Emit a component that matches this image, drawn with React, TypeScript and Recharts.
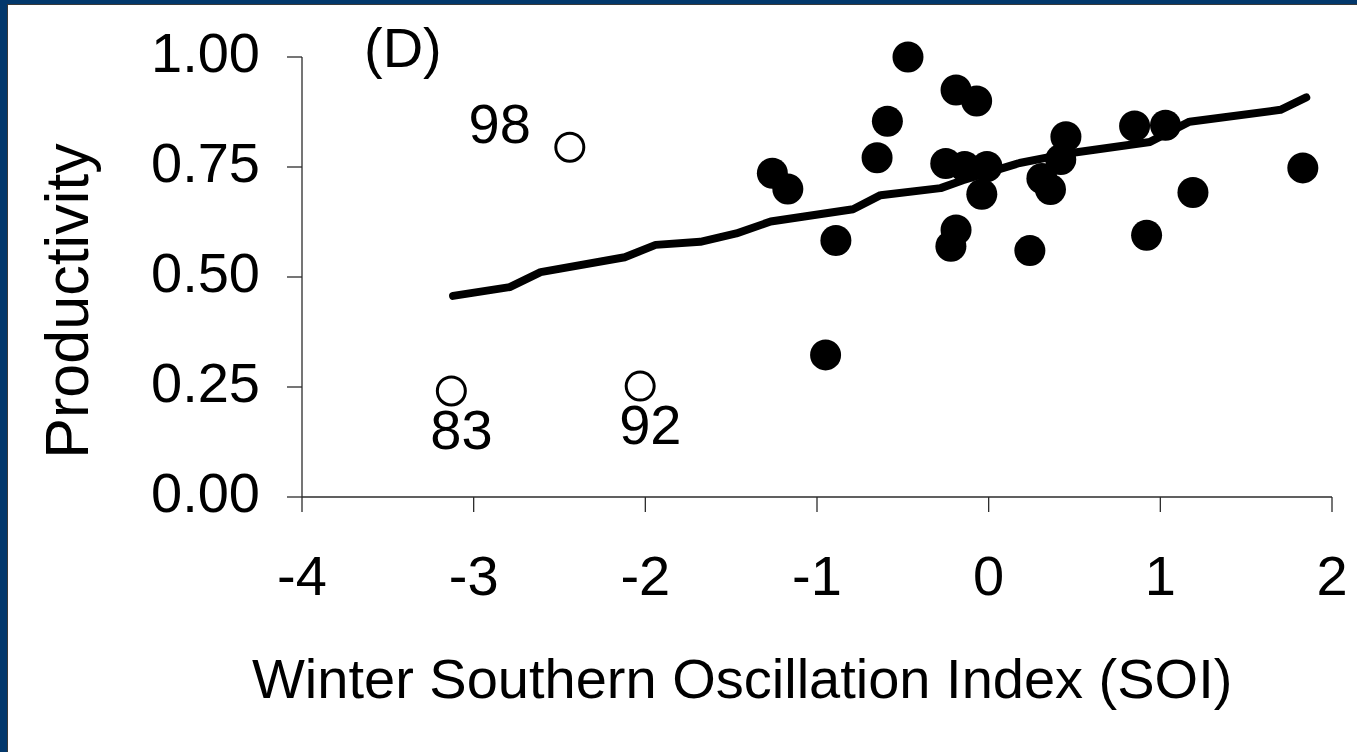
import { ScatterChart, Scatter, XAxis, YAxis, Label } from "recharts";

// filled points: winter SOI vs productivity
const soiYears = [
  -0.47, -0.19, -0.07, -0.59, -0.65, -1.26, -1.17, -0.25, -0.14, -0.01, -0.04,
  0.45, 0.42, 0.31, 0.36, 0.85, 0.92, -0.19, -0.22, 0.24, -0.89, -0.95, 1.03,
  1.19, 1.83,
];
const prodYears = [
  1.0, 0.925, 0.9, 0.854, 0.771, 0.736, 0.7, 0.758, 0.751, 0.751, 0.688,
  0.819, 0.767, 0.724, 0.699, 0.843, 0.595, 0.607, 0.57, 0.56, 0.583, 0.323,
  0.845, 0.692, 0.748,
];

// open points (outlier years)
const outlierYears = ["98", "83", "92"];
const soiOutliers = [-2.44, -3.13, -2.03];
const prodOutliers = [0.795, 0.241, 0.252];

// fitted line
const trendSoi = [
  -3.12, -2.79, -2.61, -2.12, -1.94, -1.68, -1.47, -1.27, -0.79, -0.63, -0.28,
  -0.15, 0.18, 0.45, 0.94, 1.17, 1.7, 1.85,
];
const trendProd = [
  0.457, 0.477, 0.511, 0.545, 0.573, 0.58, 0.599, 0.626, 0.654, 0.686, 0.702,
  0.72, 0.759, 0.78, 0.807, 0.853, 0.88, 0.908,
];

const xTicks = [-4, -3, -2, -1, 0, 1, 2];
const yTicks = [0, 0.25, 0.5, 0.75, 1];

const filled = soiYears.map((x, i) => ({ x, y: prodYears[i] }));
const outliers = soiOutliers.map((x, i) => ({
  x,
  y: prodOutliers[i],
  year: outlierYears[i],
}));
const trend = trendSoi.map((x, i) => ({ x, y: trendProd[i] }));

const FONT = "'Liberation Sans', Arial, sans-serif";
const FS = 56;
const AXIS = "#2b2b2b";

const YTick = (p: any) => (
  <text
    x={p.x}
    y={p.y + 15}
    textAnchor="end"
    fontFamily={FONT}
    fontSize={FS}
    fill="#000"
  >
    {p.payload.value.toFixed(2)}
  </text>
);

const XTick = (p: any) => (
  <text
    x={p.x}
    y={p.y + 83}
    textAnchor="middle"
    fontFamily={FONT}
    fontSize={FS}
    fill="#000"
  >
    {p.payload.value}
  </text>
);

const Dot = (p: any) => <circle cx={p.cx} cy={p.cy} r={15.5} fill="#000" />;

const OpenDot = (p: any) => {
  const left = p.payload.year === "98";
  return (
    <g>
      <circle
        cx={p.cx}
        cy={p.cy}
        r={14}
        fill="#fff"
        stroke="#000"
        strokeWidth={3}
      />
      <text
        x={left ? p.cx - 39 : p.cx - 21}
        y={left ? p.cy - 4 : p.cy + 58}
        textAnchor={left ? "end" : "start"}
        fontFamily={FONT}
        fontSize={FS}
        fill="#000"
      >
        {p.payload.year}
      </text>
    </g>
  );
};

export default function App() {
  return (
    <div
      style={{
        position: "fixed",
        left: 0,
        top: 0,
        width: 1357,
        height: 752,
        background: "#03386c",
      }}
    >
      <div
        style={{
          position: "absolute",
          left: 7,
          top: 4,
          right: 0,
          bottom: 0,
          background: "#fff",
          borderLeft: "1.5px solid #3a3a3a",
          borderTop: "1.5px solid #3a3a3a",
        }}
      />
      <div style={{ position: "absolute", left: 0, top: 0 }}>
        <ScatterChart
          width={1357}
          height={752}
          margin={{ top: 57, right: 25, bottom: 0, left: 0 }}
        >
          <XAxis
            type="number"
            dataKey="x"
            domain={[-4, 2]}
            ticks={xTicks}
            height={255}
            tickSize={15}
            tickMargin={0}
            tick={<XTick />}
            axisLine={{ stroke: AXIS, strokeWidth: 1.3 }}
            tickLine={{ stroke: AXIS, strokeWidth: 1.3 }}
          >
            <Label
              content={() => (
                <text
                  x={252}
                  y={698}
                  textAnchor="start"
                  fontFamily={FONT}
                  fontSize={FS}
                  fill="#000"
                >
                  Winter Southern Oscillation Index (SOI)
                </text>
              )}
            />
          </XAxis>
          <YAxis
            type="number"
            dataKey="y"
            domain={[0, 1]}
            ticks={yTicks}
            width={302}
            tickSize={15}
            tickMargin={27}
            tick={<YTick />}
            axisLine={{ stroke: AXIS, strokeWidth: 1.3 }}
            tickLine={{ stroke: AXIS, strokeWidth: 1.3 }}
          >
            <Label
              content={() => (
                <g>
                  <text
                    transform="translate(88,301) rotate(-90)"
                    textAnchor="middle"
                    fontFamily={FONT}
                    fontSize={61}
                    fill="#000"
                  >
                    Productivity
                  </text>
                  <text
                    x={364}
                    y={67}
                    fontFamily={FONT}
                    fontSize={FS}
                    fill="#000"
                  >
                    (D)
                  </text>
                </g>
              )}
            />
          </YAxis>
          <Scatter
            data={trend}
            isAnimationActive={false}
            line={{
              stroke: "#000",
              strokeWidth: 8,
              strokeLinecap: "round",
              strokeLinejoin: "round",
            }}
            shape={() => <g />}
          />
          <Scatter data={filled} isAnimationActive={false} shape={<Dot />} />
          <Scatter
            data={outliers}
            isAnimationActive={false}
            shape={<OpenDot />}
          />
        </ScatterChart>
      </div>
    </div>
  );
}
